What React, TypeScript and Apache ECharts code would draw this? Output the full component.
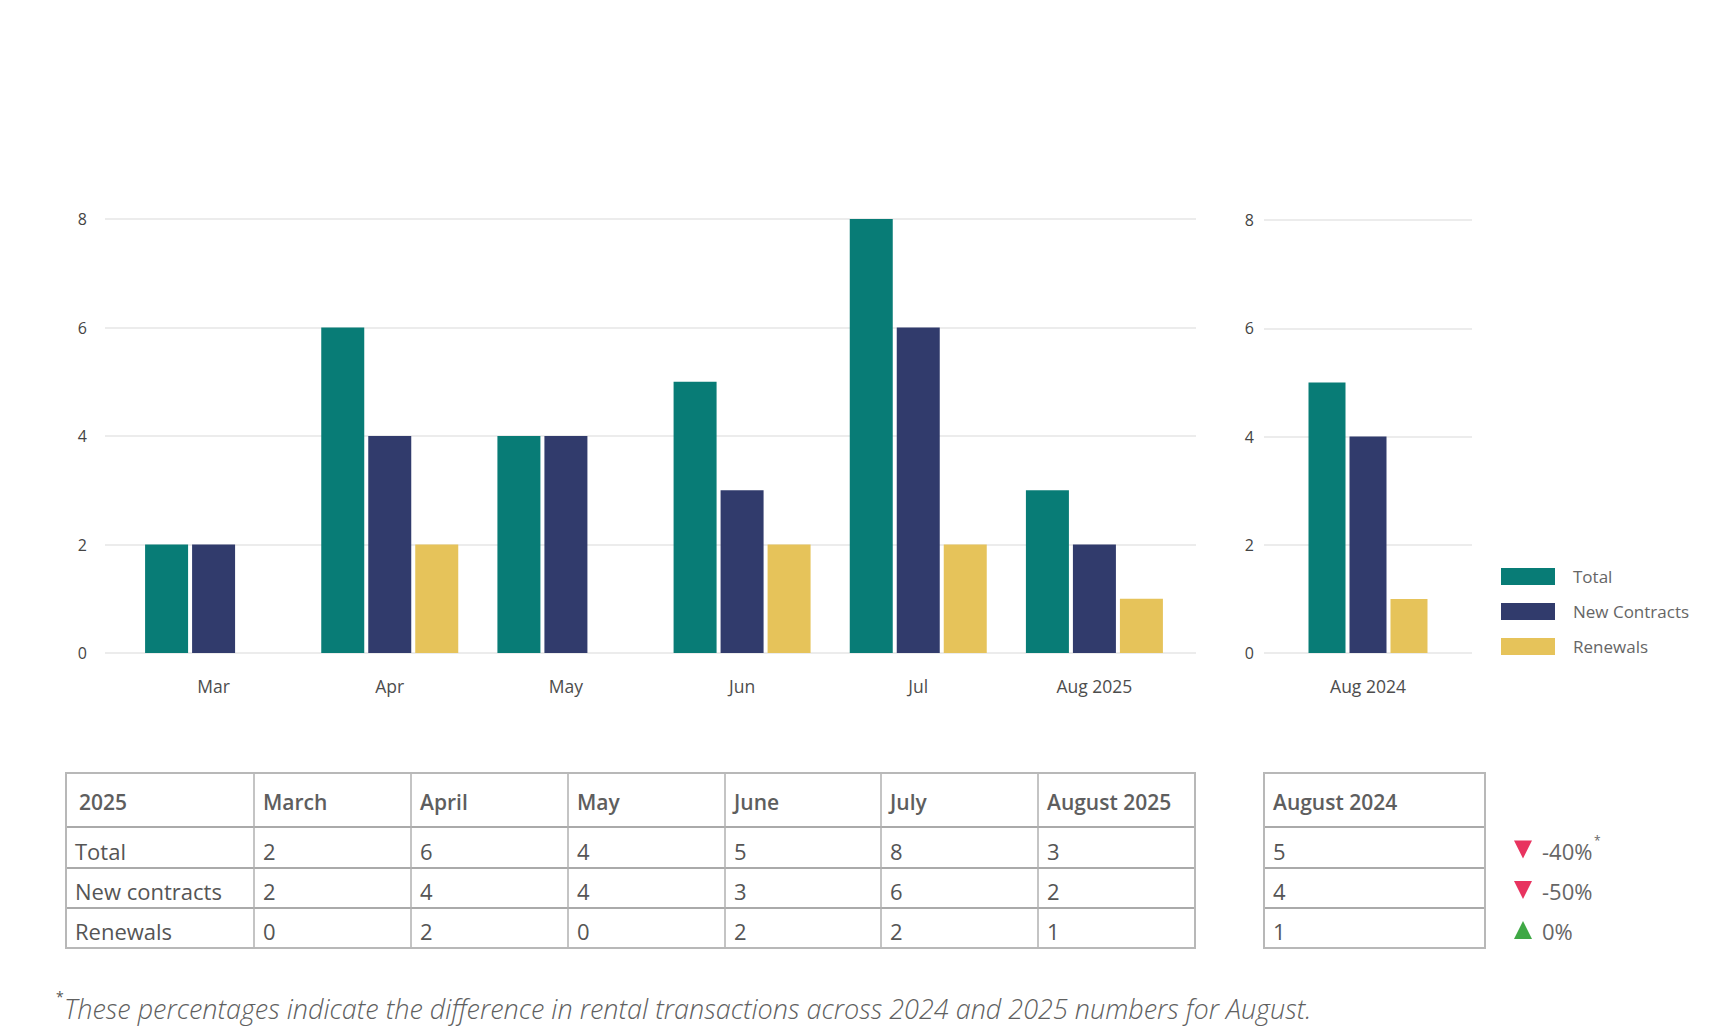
import React, { useEffect, useRef } from "react";
import * as echarts from "echarts";

// ---------- data ----------
const months = ["Mar", "Apr", "May", "Jun", "Jul", "Aug 2025"];
const monthNames = ["March", "April", "May", "June", "July", "August 2025"];
const totals = [2, 6, 4, 5, 8, 3];
const newContracts = [2, 4, 4, 3, 6, 2];
const renewals = [0, 2, 0, 2, 2, 1];

const prevCategory = ["Aug 2024"];
const prevName = "August 2024";
const prevTotals = [5];
const prevNewContracts = [4];
const prevRenewals = [1];

const seriesNames = ["Total", "New Contracts", "Renewals"];
const rowLabels = ["Total", "New contracts", "Renewals"];
const tableYear = "2025";
const footnote =
  "These percentages indicate the difference in rental transactions across 2024 and 2025 numbers for August.";

const yMin = 0;
const yMax = 8;
const yInterval = 2;

// ---------- style ----------
const W = 1732;
const H = 1030;
const FONT = '"Open Sans", "Noto Sans", sans-serif';
const COLORS = ["#087c76", "#313b6c", "#e6c35a"];
const TEXT = "#555555";

function buildOption() {
  const curRows = [totals, newContracts, renewals];
  const prevRows = [prevTotals, prevNewContracts, prevRenewals];

  const axisLabelY = (margin: number) => ({
    margin,
    fontSize: 16,
    color: "#444",
    fontFamily: FONT,
  });
  const yBase = {
    type: "value",
    min: yMin,
    max: yMax,
    interval: yInterval,
    axisLine: { show: false },
    axisTick: { show: false },
    splitLine: { lineStyle: { color: "#ececec", width: 2 } },
  };
  const xCat = {
    type: "category",
    axisLine: { show: false },
    axisTick: { show: false },
    axisLabel: { margin: 24, fontSize: 17.5, color: "#4d4d4d", fontFamily: FONT },
  };

  const series: any[] = [];
  seriesNames.forEach((name, i) => {
    series.push({
      name,
      type: "bar",
      xAxisIndex: 1,
      yAxisIndex: 1,
      data: curRows[i],
      barWidth: 43,
      barGap: "9.3%",
      itemStyle: { color: COLORS[i] },
    });
  });
  seriesNames.forEach((name, i) => {
    series.push({
      name,
      type: "bar",
      xAxisIndex: 2,
      yAxisIndex: 2,
      data: prevRows[i],
      barWidth: 37,
      barGap: "10.8%",
      itemStyle: { color: COLORS[i] },
    });
  });

  // ---------- table graphics ----------
  const g: any[] = [];
  const colX = [66, 254, 411, 568, 725, 881, 1038, 1195];
  const rowY = [773, 827, 868, 908, 948];
  const col2X = [1264, 1485];
  const outer = "#b8b8b8";
  const inner = "#8e8e8e";
  const vert = "#b0b0b0";

  const line = (x1: number, y1: number, x2: number, y2: number, stroke: string, lw = 1.5) => ({
    type: "line",
    silent: true,
    shape: { x1, y1, x2, y2 },
    style: { stroke, lineWidth: lw },
  });
  const text = (x: number, y: number, t: string, opts: any = {}) => ({
    type: "text",
    silent: true,
    x,
    y,
    style: {
      text: t,
      fill: opts.fill || TEXT,
      fontSize: opts.fontSize || 22,
      fontFamily: FONT,
      fontWeight: opts.fontWeight || "normal",
      fontStyle: opts.fontStyle || "normal",
      align: "left",
      verticalAlign: "middle",
      textAlign: "left",
      textVerticalAlign: "middle",
    },
  });

  const drawGrid = (xs: number[]) => {
    const x0 = xs[0];
    const x1 = xs[xs.length - 1];
    for (let r = 1; r < rowY.length - 1; r++) g.push(line(x0, rowY[r], x1, rowY[r], inner));
    for (let c = 1; c < xs.length - 1; c++) g.push(line(xs[c], rowY[0], xs[c], rowY[rowY.length - 1], vert));
    g.push({
      type: "rect",
      silent: true,
      shape: { x: x0, y: rowY[0], width: x1 - x0, height: rowY[rowY.length - 1] - rowY[0] },
      style: { fill: "none", stroke: outer, lineWidth: 2 },
    });
  };
  drawGrid(colX);
  drawGrid(col2X);

  const headerY = (rowY[0] + rowY[1]) / 2 + 2;
  const rowCenter = (r: number) => (rowY[r + 1] + rowY[r + 2]) / 2 + 3;
  const headOpts = { fontWeight: 600, fill: "#5e5e5e", fontSize: 21 };

  g.push(text(colX[0] + 13, headerY, tableYear, headOpts));
  monthNames.forEach((m, i) => g.push(text(colX[i + 1] + 9, headerY, m, headOpts)));
  g.push(text(col2X[0] + 9, headerY, prevName, headOpts));

  rowLabels.forEach((lab, r) => {
    const y = rowCenter(r);
    g.push(text(colX[0] + 9, y, lab));
    curRows[r].forEach((v, i) => g.push(text(colX[i + 1] + 9, y, String(v))));
    g.push(text(col2X[0] + 9, y, String(prevRows[r][0])));

    // change vs previous year
    const now = curRows[r][curRows[r].length - 1];
    const before = prevRows[r][0];
    const pct = Math.round(((now - before) / before) * 100);
    const ax = 1523;
    const ay = y - 1;
    if (pct < 0) {
      g.push({
        type: "polygon",
        silent: true,
        shape: { points: [[ax - 9, ay - 9], [ax + 9, ay - 9], [ax, ay + 9]] },
        style: { fill: "#e8335f" },
      });
    } else {
      g.push({
        type: "polygon",
        silent: true,
        shape: { points: [[ax - 9, ay + 9], [ax + 9, ay + 9], [ax, ay - 9]] },
        style: { fill: "#3fa845" },
      });
    }
    const label = `${pct < 0 ? "-" : ""}${Math.abs(pct)}%`;
    g.push(text(1542, y, label, { fill: "#666" }));
    if (r === 0) {
      g.push(text(1542 + label.length * 13, y - 10, "*", { fontSize: 12, fill: "#666" }));
    }
  });

  // footnote
  g.push(text(56, 996, "*", { fontSize: 14, fill: TEXT }));
  g.push(
    text(64, 1008, footnote, { fontSize: 27, fontStyle: "italic", fontWeight: 300, fill: "#606060" })
  );

  return {
    animation: false,
    backgroundColor: "#ffffff",
    textStyle: { fontFamily: FONT },
    grid: [
      { left: 105, top: 219, width: 1091, height: 434 },
      { left: 125.5, top: 219, width: 1057, height: 434 },
      { left: 1264, top: 220, width: 208, height: 433 },
    ],
    xAxis: [
      { gridIndex: 0, type: "value", min: 0, max: 1, show: false },
      { ...xCat, gridIndex: 1, data: months },
      { ...xCat, gridIndex: 2, data: prevCategory },
    ],
    yAxis: [
      { ...yBase, gridIndex: 0, axisLabel: axisLabelY(18) },
      { ...yBase, gridIndex: 1, show: false, splitLine: { show: false } },
      { ...yBase, gridIndex: 2, axisLabel: axisLabelY(10) },
    ],
    legend: {
      orient: "vertical",
      left: 1501,
      top: 568,
      padding: 0,
      itemWidth: 54,
      itemHeight: 17,
      itemGap: 18,
      icon: "rect",
      selectedMode: false,
      data: seriesNames,
      textStyle: {
        fontSize: 17,
        lineHeight: 17,
        color: "#666",
        fontFamily: FONT,
        padding: [0, 0, 0, 13],
      },
    },
    series,
    graphic: { elements: g },
  };
}

export default function App() {
  const ref = useRef<HTMLDivElement>(null);
  useEffect(() => {
    if (!ref.current) return;
    const chart = echarts.init(ref.current, null, { renderer: "svg", width: W, height: H });
    chart.setOption(buildOption() as any);
    return () => chart.dispose();
  }, []);
  return (
    <div
      ref={ref}
      style={{ position: "absolute", left: 0, top: 0, width: W, height: H, background: "#fff" }}
    />
  );
}
